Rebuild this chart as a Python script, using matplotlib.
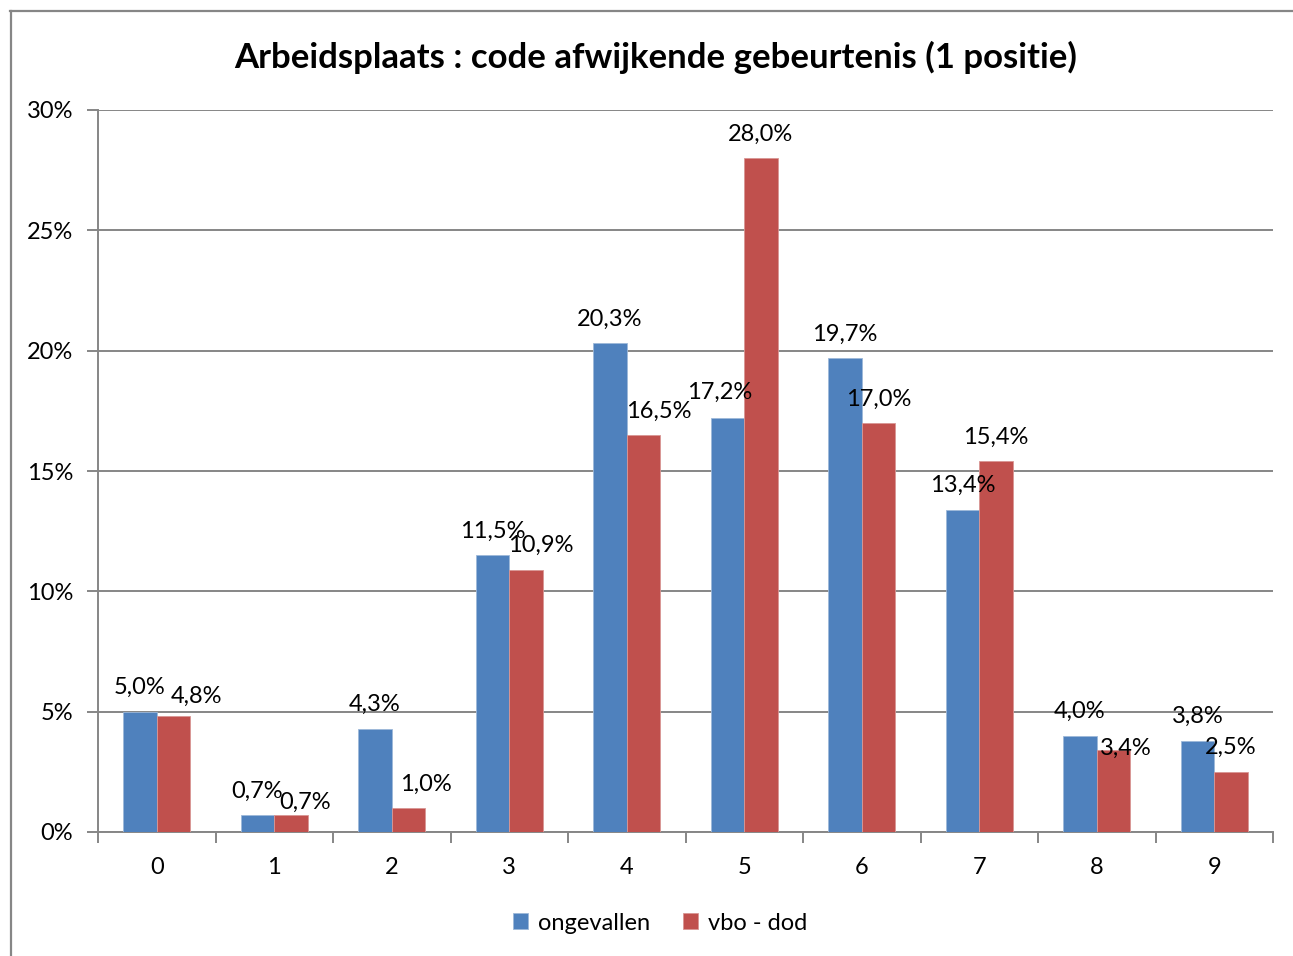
import numpy as np
import matplotlib
matplotlib.use("Agg")
import matplotlib.pyplot as plt
from matplotlib.lines import Line2D
from matplotlib.ticker import FuncFormatter, FixedLocator

plt.rcParams['font.family'] = ['Lato', 'DejaVu Sans']

categories = ['0', '1', '2', '3', '4', '5', '6', '7', '8', '9']
ongevallen = [5.0, 0.7, 4.3, 11.5, 20.3, 17.2, 19.7, 13.4, 4.0, 3.8]
vbo_dod = [4.8, 0.7, 1.0, 10.9, 16.5, 28.0, 17.0, 15.4, 3.4, 2.5]

# label nudges in pixels (dx, dy) - labels were dragged by hand in the original
blue_nudge = {5: (-8, 2)}
red_nudge = {0: (23, -4), 1: (14, -11), 2: (17, 0), 3: (15, 0), 4: (15, 0), 8: (12, -22)}

blue = '#4F81BD'
red = '#C0504D'
grey = '#868686'
fs = 17

fig = plt.figure(figsize=(12.93, 9.56), dpi=100)
ax = fig.add_axes([98 / 1293, 1 - 832 / 956, 1175 / 1293, 722 / 956])

x = np.arange(len(categories))
w = 0.285
b1 = ax.bar(x - w / 2, ongevallen, w, color=blue, edgecolor='#9db8d9', linewidth=0.6,
            label='ongevallen', zorder=3)
b2 = ax.bar(x + w / 2, vbo_dod, w, color=red, edgecolor='#d99694', linewidth=0.6,
            label='vbo - dod', zorder=3)


def fmt(v):
    return f'{v:.1f}%'.replace('.', ',')


for i in range(len(categories)):
    for xs, vals, nudge in ((x - w / 2, ongevallen, blue_nudge), (x + w / 2, vbo_dod, red_nudge)):
        dx, dy = nudge.get(i, (0, 0))
        ax.annotate(fmt(vals[i]), xy=(xs[i], vals[i]), xytext=(dx, 24 + dy),
                    textcoords='offset pixels', ha='center', va='center',
                    fontsize=fs, color='black', zorder=5)

ax.set_xlim(-0.5, 9.5)
ax.set_ylim(0, 30)
ax.set_yticks(np.arange(0, 31, 5))
ax.yaxis.set_major_formatter(FuncFormatter(lambda v, p: f'{int(v)}%'))
ax.yaxis.grid(True, color=grey, linewidth=1.4, zorder=0)

ax.xaxis.set_major_locator(FixedLocator(np.arange(-0.5, 10, 1)))
ax.xaxis.set_major_formatter(FuncFormatter(lambda v, p: ''))
ax.xaxis.set_minor_locator(FixedLocator(x))
ax.set_xticklabels(categories, minor=True)
ax.tick_params(axis='x', which='minor', length=0, pad=18, labelsize=fs)
ax.tick_params(axis='x', which='major', length=8, width=1.4, color=grey)
ax.tick_params(axis='y', length=8, width=1.4, color=grey, labelsize=fs, pad=10)

for s in ('top', 'right'):
    ax.spines[s].set_visible(False)
for s in ('left', 'bottom'):
    ax.spines[s].set_color(grey)
    ax.spines[s].set_linewidth(1.4)

fig.text(656 / 1293, 1 - 57 / 956, 'Arbeidsplaats : code afwijkende gebeurtenis (1 positie)',
         ha='center', va='center', fontsize=25, fontweight='bold')

fig.legend(handles=[b1, b2], loc='center', bbox_to_anchor=(660 / 1293, 1 - 923 / 956),
           ncol=2, frameon=False, fontsize=fs, handlelength=0.65, handleheight=0.65,
           handletextpad=0.4, columnspacing=1.4)

# outer chart frame (cut at right and bottom in the original)
fig.add_artist(Line2D([10.5 / 1293, 10.5 / 1293], [0, 1 - 11 / 956], color=grey, linewidth=1.6))
fig.add_artist(Line2D([10 / 1293, 1], [1 - 11 / 956, 1 - 11 / 956], color=grey, linewidth=1.6))

fig.savefig('out.png', dpi=100, facecolor='white')
